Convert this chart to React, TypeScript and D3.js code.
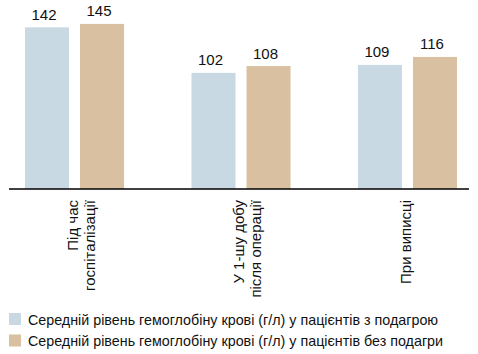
import { useEffect, useRef } from 'react'
import * as d3 from 'd3'

const categories = ['Під час госпіталізації', 'У 1-шу добу після операції', 'При виписці']
const categoryLines = [['Під час', 'госпіталізації'], ['У 1-шу добу', 'після операції'], ['При виписці']]
const withGout = [142, 102, 109]
const withoutGout = [145, 108, 116]
const seriesNames = [
  'Середній рівень гемоглобіну крові (г/л) у пацієнтів з подагрою',
  'Середній рівень гемоглобіну крові (г/л) у пацієнтів без подагри',
]
const colors = ['#c9d9e3', '#d9c0a0']

const FONT = '"Liberation Sans Narrow", "Liberation Sans", Arial, sans-serif'

export default function App() {
  const chartRef = useRef<SVGSVGElement | null>(null)

  useEffect(() => {
    const svg = d3.select(chartRef.current)
    svg.selectAll('*').remove()

    const baseY = 189
    const data = categories.map((c, i) => ({ cat: c, values: [withGout[i], withoutGout[i]] }))

    const x0 = d3.scaleBand<string>()
      .domain(categories)
      .range([25, 457])
      .paddingInner(0.405)
      .paddingOuter(0)

    const x1 = d3.scaleBand<number>()
      .domain([0, 1])
      .range([0, x0.bandwidth()])
      .paddingInner(0.2)

    const y = d3.scaleLinear()
      .domain([0, 166])
      .range([baseY, 0])

    const groups = svg.selectAll('.group')
      .data(data)
      .enter().append('g')
      .attr('class', 'group')
      .attr('transform', d => `translate(${x0(d.cat)},0)`)

    groups.selectAll('rect')
      .data(d => d.values)
      .enter().append('rect')
      .attr('x', (_, i) => x1(i)!)
      .attr('width', x1.bandwidth())
      .attr('y', d => y(d))
      .attr('height', d => baseY - y(d))
      .attr('fill', (_, i) => colors[i])

    groups.selectAll('.val')
      .data(d => d.values)
      .enter().append('text')
      .attr('class', 'val')
      .attr('x', (_, i) => x1(i)! + x1.bandwidth() / 2 - 3)
      .attr('y', d => y(d) - 7.5)
      .attr('text-anchor', 'middle')
      .style('font-family', FONT)
      .style('font-size', '15px')
      .attr('fill', '#111')
      .text(d => d)

    // axis line
    svg.append('line')
      .attr('x1', 9)
      .attr('x2', 469)
      .attr('y1', baseY)
      .attr('y2', baseY)
      .attr('stroke', '#000')
      .attr('stroke-width', 1.5)

    // rotated category labels
    categoryLines.forEach((lines, i) => {
      const cx = x0(categories[i])! + x0.bandwidth() / 2
      const offs = lines.length === 1 ? [4] : [3, 20]
      lines.forEach((line, j) => {
        svg.append('text')
          .attr('transform', `translate(${cx + offs[j]},200) rotate(-90)`)
          .attr('text-anchor', 'end')
          .style('font-family', FONT)
          .style('font-size', '15px')
          .attr('fill', '#111')
          .text(line)
      })
    })

    // legend
    const legend = svg.selectAll('.legend')
      .data(seriesNames)
      .enter().append('g')
      .attr('class', 'legend')
      .attr('transform', (_, i) => `translate(9,${313 + i * 21.5})`)

    legend.append('rect')
      .attr('width', 12)
      .attr('height', 12)
      .attr('fill', (_, i) => colors[i])

    legend.append('text')
      .attr('x', 19)
      .attr('y', 11.5)
      .style('font-family', FONT)
      .style('font-size', '14.3px')
      .attr('fill', '#111')
      .text(d => d)
  }, [])

  return (
    <svg
      ref={chartRef}
      width={478}
      height={354}
      style={{ position: 'absolute', left: 0, top: 0, background: '#fff' }}
    />
  )
}
